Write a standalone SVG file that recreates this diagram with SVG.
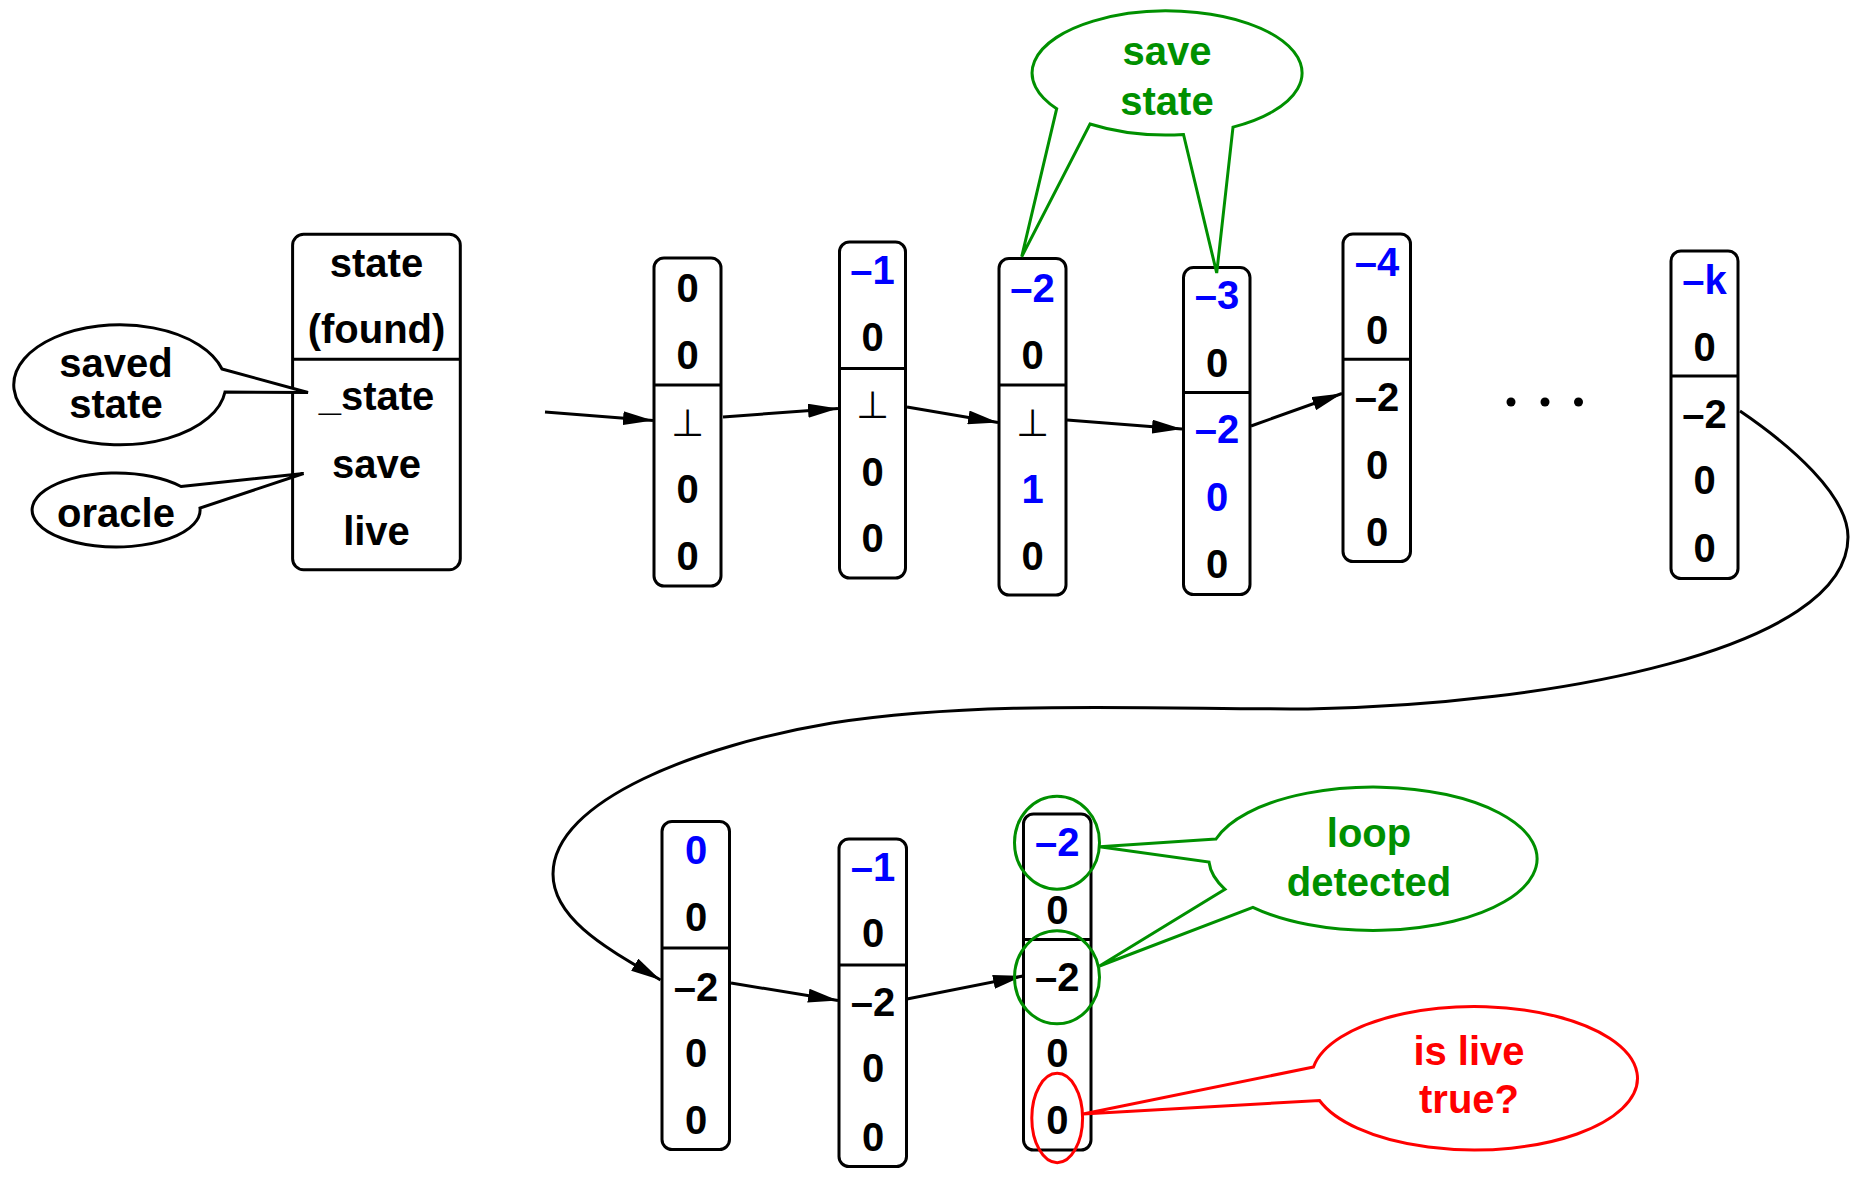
<svg xmlns="http://www.w3.org/2000/svg" width="1865" height="1177" viewBox="0 0 1865 1177">
<style>
text{font-family:"Liberation Sans",Arial,sans-serif;font-weight:bold;font-size:40px;text-anchor:middle;fill:#000}
.b{fill:#0000ff}
.g{fill:#009000}
.r{fill:#ff0000}
.perp{font-family:"DejaVu Sans",sans-serif;font-weight:normal;font-size:38px}
.box{fill:#fff;stroke:#000;stroke-width:3}
.div{stroke:#000;stroke-width:3}
.co{fill:#fff;stroke:#000;stroke-width:3;stroke-linejoin:miter}
.cog{fill:#fff;stroke:#009000;stroke-width:3}
.cor{fill:#fff;stroke:#ff0000;stroke-width:3}
.ring{fill:none;stroke-width:3}
.conn{fill:none;stroke:#000;stroke-width:3;marker-end:url(#ah)}
</style>
<defs>
<marker id="ah" markerUnits="userSpaceOnUse" markerWidth="30" markerHeight="14" refX="30" refY="7" orient="auto">
<path d="M0,0 L30,7 L0,14 z" fill="#000"/>
</marker>
</defs>
<rect width="1865" height="1177" fill="#fff"/>

<g id="connectors">
<line class="conn" x1="545" y1="412" x2="653" y2="420.5"/>
<line class="conn" x1="723" y1="417" x2="838" y2="408.5"/>
<line class="conn" x1="907" y1="407" x2="998" y2="422.5"/>
<line class="conn" x1="1067" y1="420" x2="1182" y2="429"/>
<line class="conn" x1="1251" y1="426" x2="1342" y2="393.5"/>
<path class="conn" d="M1740,411 C1790,445 1848,495 1848,537 C1848,650 1550,705 1308,709 C1150,709 980,700 832,723 C700,745 553,800 553,874 C553,920 610,950 660.5,980"/>
<line class="conn" x1="731" y1="983" x2="838" y2="1000.5"/>
<line class="conn" x1="907" y1="999" x2="1023" y2="976"/>
</g>

<g id="state-box">
<rect class="box" x="292.6" y="234.3" width="167.7" height="335.4" rx="11"/>
<line class="div" x1="292.6" y1="359.3" x2="460.3" y2="359.3"/>
<text x="376.5" y="277">state</text>
<text x="376.5" y="343">(found)</text>
<text x="376.5" y="410">_state</text>
<text x="376.5" y="477.5">save</text>
<text x="376.5" y="545">live</text>
</g>

<g id="callout-saved-state">
<path class="co" d="M222,369 L308,392.5 L225,392 A106,60 0 1 1 222,369 Z"/>
<text x="116" y="377">saved</text>
<text x="116" y="418">state</text>
</g>

<g id="callout-oracle">
<path class="co" d="M181,486.5 L303.6,473.5 L200,508 A84,37 0 1 1 181,486.5 Z"/>
<text x="116" y="527">oracle</text>
</g>

<g id="col1">
<rect class="box" x="654" y="258" width="67" height="328" rx="10"/>
<line class="div" x1="654" y1="385" x2="721" y2="385"/>
<text x="687.5" y="302">0</text>
<text x="687.5" y="369">0</text>
<text class="perp" x="687.5" y="436">⊥</text>
<text x="687.5" y="503">0</text>
<text x="687.5" y="570">0</text>
</g>

<g id="col2">
<rect class="box" x="839.5" y="242" width="66" height="336" rx="10"/>
<line class="div" x1="839.5" y1="368.5" x2="905.5" y2="368.5"/>
<text class="b" x="872.5" y="284">–1</text>
<text x="872.5" y="351">0</text>
<text class="perp" x="872.5" y="418">⊥</text>
<text x="872.5" y="486">0</text>
<text x="872.5" y="552">0</text>
</g>

<g id="col3">
<rect class="box" x="999" y="258.5" width="67" height="336.5" rx="10"/>
<line class="div" x1="999" y1="385" x2="1066" y2="385"/>
<text class="b" x="1032.5" y="302">–2</text>
<text x="1032.5" y="369">0</text>
<text class="perp" x="1032.5" y="436">⊥</text>
<text class="b" x="1032.5" y="503">1</text>
<text x="1032.5" y="570">0</text>
</g>

<g id="col4">
<rect class="box" x="1183.5" y="267.6" width="66.5" height="327" rx="10"/>
<line class="div" x1="1183.5" y1="392.5" x2="1250" y2="392.5"/>
<text class="b" x="1217" y="309">–3</text>
<text x="1217" y="377">0</text>
<text class="b" x="1217" y="443">–2</text>
<text class="b" x="1217" y="511">0</text>
<text x="1217" y="578">0</text>
</g>

<g id="col5">
<rect class="box" x="1343" y="234" width="67.5" height="327.5" rx="10"/>
<line class="div" x1="1343" y1="359.3" x2="1410.5" y2="359.3"/>
<text class="b" x="1377" y="276">–4</text>
<text x="1377" y="344">0</text>
<text x="1377" y="411">–2</text>
<text x="1377" y="479">0</text>
<text x="1377" y="546">0</text>
</g>

<g id="ellipsis">
<circle cx="1511" cy="402" r="4.5" fill="#000"/>
<circle cx="1545" cy="402" r="4.5" fill="#000"/>
<circle cx="1578.5" cy="402" r="4.5" fill="#000"/>
</g>

<g id="col6">
<rect class="box" x="1671" y="251" width="67" height="327.5" rx="10"/>
<line class="div" x1="1671" y1="376" x2="1738" y2="376"/>
<text class="b" x="1704.5" y="294">–k</text>
<text x="1704.5" y="361">0</text>
<text x="1704.5" y="428">–2</text>
<text x="1704.5" y="494">0</text>
<text x="1704.5" y="562">0</text>
</g>

<g id="col7">
<rect class="box" x="662" y="821.5" width="67.5" height="328" rx="10"/>
<line class="div" x1="662" y1="948" x2="729.5" y2="948"/>
<text class="b" x="696" y="864">0</text>
<text x="696" y="931">0</text>
<text x="696" y="1001">–2</text>
<text x="696" y="1067">0</text>
<text x="696" y="1134">0</text>
</g>

<g id="col8">
<rect class="box" x="839" y="839" width="67.5" height="327.5" rx="10"/>
<line class="div" x1="839" y1="965" x2="906.5" y2="965"/>
<text class="b" x="873" y="881">–1</text>
<text x="873" y="947">0</text>
<text x="873" y="1016">–2</text>
<text x="873" y="1082">0</text>
<text x="873" y="1151">0</text>
</g>

<g id="col9">
<rect class="box" x="1023.5" y="814" width="67.5" height="336" rx="10"/>
<line class="div" x1="1023.5" y1="939.5" x2="1091" y2="939.5"/>
<text class="b" x="1057.3" y="856">–2</text>
<text x="1057.3" y="924">0</text>
<text x="1057.3" y="991">–2</text>
<text x="1057.3" y="1067">0</text>
<text x="1057.3" y="1134">0</text>
</g>

<g id="highlight-rings">
<ellipse class="ring" cx="1057" cy="842.7" rx="42.5" ry="46.5" stroke="#009000"/>
<ellipse class="ring" cx="1057" cy="977.3" rx="42.5" ry="46.5" stroke="#009000"/>
<ellipse class="ring" cx="1057.2" cy="1118" rx="25.4" ry="44.7" stroke="#ff0000"/>
</g>

<g id="callout-save-state">
<path class="cog" d="M1056.7,108.7 L1021.7,256.7 L1090,124 A135,62 0 0 0 1183.5,134.5 L1216.7,273 L1233,127.1 A135,62 0 1 0 1056.7,108.7 Z"/>
<text class="g" x="1167" y="65">save</text>
<text class="g" x="1167" y="115">state</text>
</g>

<g id="callout-loop-detected">
<path class="cog" d="M1216,839 L1099.5,846.7 L1209,862 A163.7,71.7 0 0 0 1225,889.3 L1099.5,966 L1252.9,907.3 A163.7,71.7 0 1 0 1216,839 Z"/>
<text class="g" x="1369" y="847">loop</text>
<text class="g" x="1369" y="896">detected</text>
</g>

<g id="callout-is-live">
<path class="cor" d="M1313.5,1067 L1083,1114 L1319.5,1100.5 A163,71.7 0 1 0 1313.5,1067 Z"/>
<text class="r" x="1469" y="1065">is live</text>
<text class="r" x="1469" y="1113">true?</text>
</g>
</svg>
